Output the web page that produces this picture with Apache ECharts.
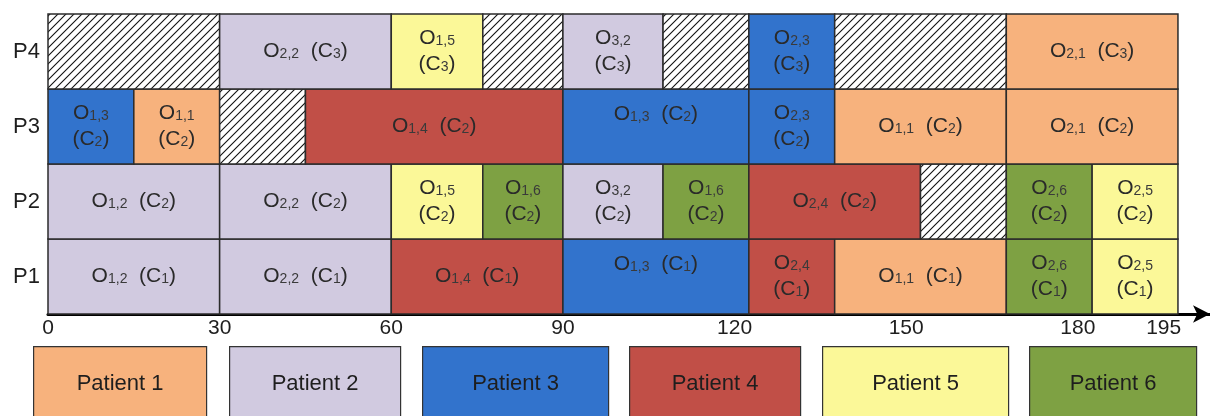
<!DOCTYPE html>
<html>
<head>
<meta charset="utf-8">
<script src="https://cdn.jsdelivr.net/npm/echarts@6/dist/echarts.min.js"></script>
<style>
  html, body { margin: 0; padding: 0; background: #fff; }
  #main { width: 1210px; height: 416px; }
</style>
</head>
<body>
<div id="main"></div>
<script>
// 行 (P1 在最下面)
var rows = ['P1', 'P2', 'P3', 'P4'];
var rowMachine = ['1', '2', '2', '3'];   // 每行对应的 C 下标
var patients = ['Patient 1', 'Patient 2', 'Patient 3', 'Patient 4', 'Patient 5', 'Patient 6'];
var tickValues = [0, 30, 60, 90, 120, 150, 180, 195];

// 每行的块: [开始, 结束, 病人(0 = 空闲/斜线), 工序下标]
var rowP1 = [[0, 30, 2, '1,2'], [30, 60, 2, '2,2'], [60, 90, 4, '1,4'], [90, 122.5, 3, '1,3'],
  [122.5, 137.5, 4, '2,4'], [137.5, 167.5, 1, '1,1'], [167.5, 182.5, 6, '2,6'], [182.5, 197.5, 5, '2,5']];
var rowP2 = [[0, 30, 2, '1,2'], [30, 60, 2, '2,2'], [60, 76, 5, '1,5'], [76, 90, 6, '1,6'],
  [90, 107.5, 2, '3,2'], [107.5, 122.5, 6, '1,6'], [122.5, 152.5, 4, '2,4'], [152.5, 167.5, 0, ''],
  [167.5, 182.5, 6, '2,6'], [182.5, 197.5, 5, '2,5']];
var rowP3 = [[0, 15, 3, '1,3'], [15, 30, 1, '1,1'], [30, 45, 0, ''], [45, 90, 4, '1,4'],
  [90, 122.5, 3, '1,3'], [122.5, 137.5, 3, '2,3'], [137.5, 167.5, 1, '1,1'], [167.5, 197.5, 1, '2,1']];
var rowP4 = [[0, 30, 0, ''], [30, 60, 2, '2,2'], [60, 76, 5, '1,5'], [76, 90, 0, ''],
  [90, 107.5, 2, '3,2'], [107.5, 122.5, 0, ''], [122.5, 137.5, 3, '2,3'], [137.5, 167.5, 0, ''],
  [167.5, 197.5, 1, '2,1']];

var patientColors = ['#F7B27D', '#D1CAE0', '#3273CC', '#C14F47', '#FBF898', '#7EA143'];
var fontFam = '"Liberation Sans", Arial, sans-serif';
// 图例方块的位置 (像素)
var legendLeft = [33, 229, 422, 629, 822, 1029];
var legendWidth = [173, 171, 186, 171, 186, 167];

// 斜线填充
var hatch = document.createElement('canvas');
hatch.width = 8; hatch.height = 8;
var hctx = hatch.getContext('2d');
hctx.fillStyle = '#fff';
hctx.fillRect(0, 0, 8, 8);
hctx.strokeStyle = '#111';
hctx.lineWidth = 1.1;
hctx.beginPath();
hctx.moveTo(0, 8); hctx.lineTo(8, 0);
hctx.moveTo(-2, 2); hctx.lineTo(2, -2);
hctx.moveTo(6, 10); hctx.lineTo(10, 6);
hctx.stroke();

// 拼成一维数组
var blocks = [];
[rowP1, rowP2, rowP3, rowP4].forEach(function (list, r) {
  list.forEach(function (b) {
    blocks.push({ value: [r, b[0], b[1]], patient: b[2], op: b[3], machine: rowMachine[r] });
  });
});

function renderItem(params, api) {
  var b = blocks[params.dataIndex];
  var r = api.value(0);
  var p0 = api.coord([api.value(1), r]);
  var p1 = api.coord([api.value(2), r]);
  var h = api.size([0, 1])[1];
  var w = p1[0] - p0[0];
  var el = {
    type: 'rect',
    shape: { x: p0[0], y: p0[1] - h / 2, width: w, height: h },
    style: {
      fill: b.patient ? patientColors[b.patient - 1] : { image: hatch, repeat: 'repeat' },
      stroke: '#2b2b2b',
      lineWidth: 1.5
    }
  };
  if (b.patient) {
    var wide = api.value(2) - api.value(1) > 25;
    var txt = wide
      ? '{o|O}{s|' + b.op + '}{o|  (C}{s|' + b.machine + '}{o|)}'
      : '{o|O}{s|' + b.op + '}\n{o|(C}{s|' + b.machine + '}{o|)}';
    el.textContent = {
      style: {
        text: txt,
        align: 'center',
        verticalAlign: 'middle',
        rich: {
          o: { fontSize: 21, lineHeight: 26, fill: '#2a2a2a', fontFamily: fontFam },
          s: { fontSize: 14, lineHeight: 14, fill: '#3a3a3a', fontFamily: fontFam, verticalAlign: 'bottom', padding: [0, 0, 3, 0] }
        }
      }
    };
    // 蓝色长块的文字偏上
    el.textConfig = { position: 'inside', offset: [0, (wide && b.patient === 3) ? -12 : 0] };
  }
  return el;
}

// 图例方块
var legendGraphics = [];
patients.forEach(function (name, i) {
  legendGraphics.push({
    type: 'rect',
    left: legendLeft[i],
    top: 346,
    shape: { width: legendWidth[i], height: 74 },
    style: { fill: patientColors[i], stroke: '#333', lineWidth: 1.2 },
    textContent: {
      style: { text: name, fontSize: 22, fill: '#1e1e1e', fontFamily: fontFam }
    },
    textConfig: { position: 'inside' }
  });
});

var chart = echarts.init(document.getElementById('main'));
var option = {
  animation: false,
  backgroundColor: '#fff',
  grid: { left: 48, right: 0, top: 14, bottom: 102 },
  xAxis: {
    type: 'value',
    min: 0,
    max: 203.1,
    axisLine: {
      show: true,
      symbol: ['none', 'arrow'],
      symbolSize: [13, 17],
      lineStyle: { color: '#000', width: 3 }
    },
    axisTick: { show: false },
    splitLine: { show: false },
    axisLabel: {
      customValues: tickValues,
      fontSize: 21,
      color: '#1e1e1e',
      fontFamily: fontFam,
      margin: 4
    }
  },
  yAxis: {
    type: 'category',
    data: rows,
    axisLine: { show: false },
    axisTick: { show: false },
    axisLabel: { fontSize: 22, color: '#1e1e1e', fontFamily: fontFam, margin: 8 }
  },
  series: [{
    type: 'custom',
    renderItem: renderItem,
    data: blocks.map(function (b) { return b.value; }),
    z: 1
  }],
  graphic: legendGraphics
};
chart.setOption(option);
</script>
</body>
</html>
